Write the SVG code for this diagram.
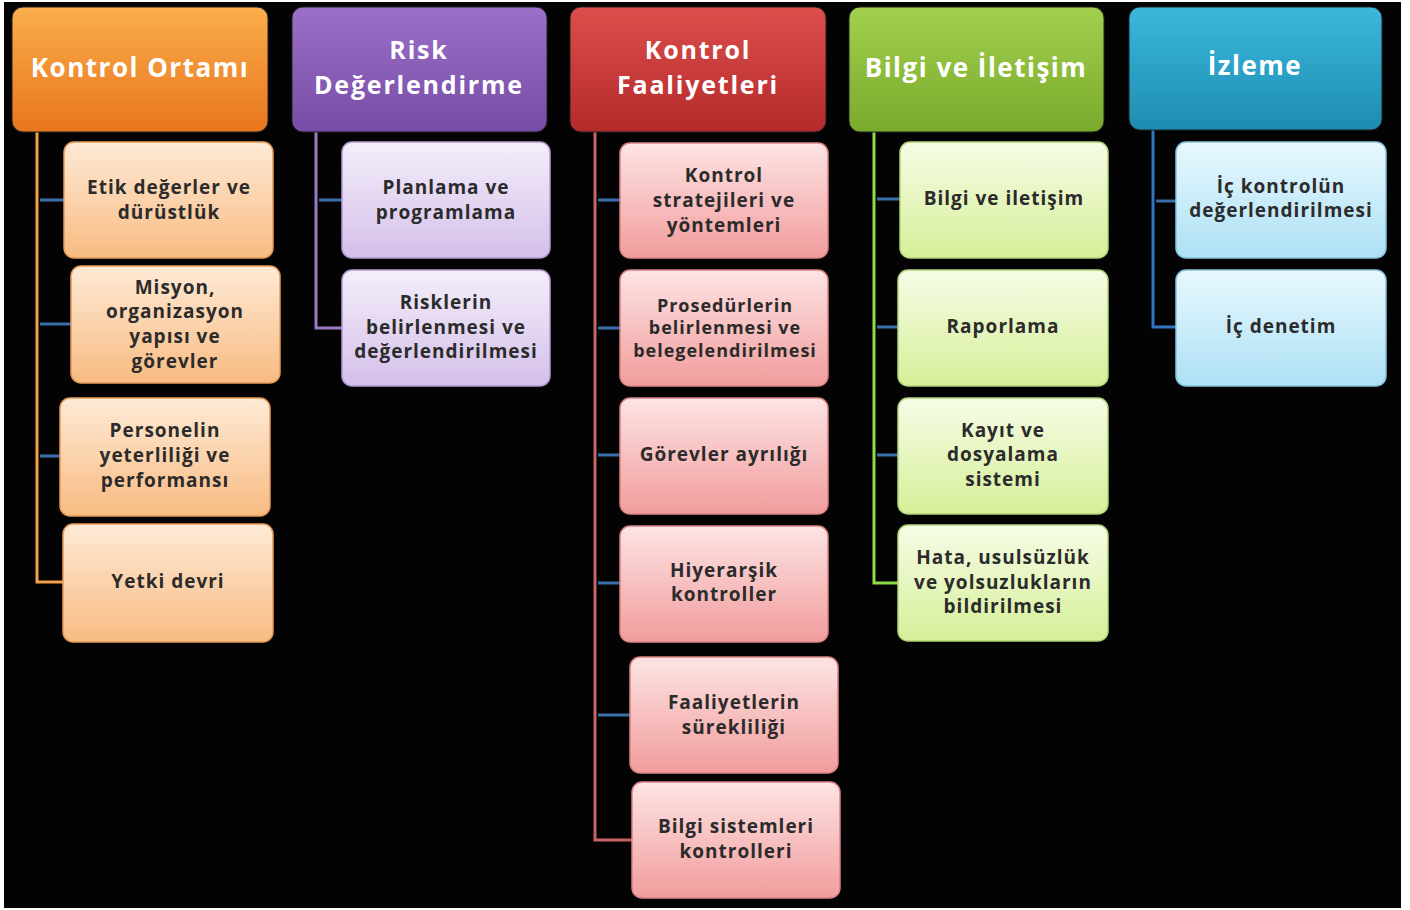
<svg xmlns="http://www.w3.org/2000/svg" width="1410" height="910" viewBox="0 0 1410 910">
<defs>
<linearGradient id="hO" x1="0" y1="0" x2="0" y2="1"><stop offset="0" stop-color="#fbad4c"/><stop offset="1" stop-color="#e8761c"/></linearGradient>
<linearGradient id="hP" x1="0" y1="0" x2="0" y2="1"><stop offset="0" stop-color="#9c70c8"/><stop offset="1" stop-color="#774ca6"/></linearGradient>
<linearGradient id="hR" x1="0" y1="0" x2="0" y2="1"><stop offset="0" stop-color="#dc4e4c"/><stop offset="1" stop-color="#b42a2a"/></linearGradient>
<linearGradient id="hG" x1="0" y1="0" x2="0" y2="1"><stop offset="0" stop-color="#a2d04e"/><stop offset="1" stop-color="#7aaa2c"/></linearGradient>
<linearGradient id="hB" x1="0" y1="0" x2="0" y2="1"><stop offset="0" stop-color="#3cb8dc"/><stop offset="1" stop-color="#1d8cb2"/></linearGradient>
<linearGradient id="cO" x1="0" y1="0" x2="0" y2="1"><stop offset="0" stop-color="#feead6"/><stop offset="1" stop-color="#f8bb82"/></linearGradient>
<linearGradient id="cP" x1="0" y1="0" x2="0" y2="1"><stop offset="0" stop-color="#f4eefa"/><stop offset="1" stop-color="#d4c0ea"/></linearGradient>
<linearGradient id="cR" x1="0" y1="0" x2="0" y2="1"><stop offset="0" stop-color="#fde4e4"/><stop offset="1" stop-color="#f29c9c"/></linearGradient>
<linearGradient id="cG" x1="0" y1="0" x2="0" y2="1"><stop offset="0" stop-color="#f6fce6"/><stop offset="1" stop-color="#d6ef98"/></linearGradient>
<linearGradient id="cB" x1="0" y1="0" x2="0" y2="1"><stop offset="0" stop-color="#e8f8fe"/><stop offset="1" stop-color="#ace0f4"/></linearGradient>
</defs>
<style>
.hd{stroke:#222;stroke-width:1}
.ch{stroke-width:1.5}
.ht{font-family:"Open Sans","Liberation Sans",sans-serif;font-weight:700;font-size:26px;fill:#fff;text-anchor:middle;letter-spacing:1.5px}
.h2{font-size:25px;letter-spacing:1.8px}
.ct{font-family:"Open Sans","Liberation Sans",sans-serif;font-weight:700;font-size:19px;fill:#2b2b2b;text-anchor:middle;letter-spacing:1px}
.stub{stroke:#3a6ea8;stroke-width:3;fill:none}
.ln{stroke-width:3;fill:none}
</style>
<rect x="0" y="0" width="1410" height="910" fill="#fff"/>
<rect x="4" y="2" width="1397" height="906" fill="#030303"/>

<g id="connectors">
<path class="ln" stroke="#f2a04a" d="M37 132 V582 H63"/>
<path class="ln" stroke="#9a7cc4" d="M316 132 V328 H342"/>
<path class="ln" stroke="#c86464" d="M595 132 V840 H632"/>
<path class="ln" stroke="#8edc4a" d="M874 132 V583 H898"/>
<path class="ln" stroke="#2f78c0" d="M1153 130 V327 H1176"/>
<path class="stub" d="M40 200 H64 M40 324 H71 M40 456 H60"/>
<path class="stub" d="M319 200 H342"/>
<path class="stub" d="M598 200 H620 M598 328 H620 M598 455 H620 M598 583 H620 M598 715 H630"/>
<path class="stub" d="M877 199 H900 M877 327 H898 M877 455 H898"/>
<path class="stub" d="M1156 201 H1176"/>
</g>

<g id="h-kontrol-ortami"><rect class="hd" x="12" y="7" width="256" height="125" rx="11" fill="url(#hO)"/><text class="ht" x="140" y="77">Kontrol Ortamı</text></g>
<g id="h-risk"><rect class="hd" x="292" y="7" width="255" height="125" rx="11" fill="url(#hP)"/><text class="ht h2" x="419" y="59">Risk</text><text class="ht h2" x="419" y="94">Değerlendirme</text></g>
<g id="h-faaliyet"><rect class="hd" x="570" y="7" width="256" height="125" rx="11" fill="url(#hR)"/><text class="ht h2" x="698" y="59">Kontrol</text><text class="ht h2" x="698" y="94">Faaliyetleri</text></g>
<g id="h-bilgi"><rect class="hd" x="849" y="7" width="255" height="125" rx="11" fill="url(#hG)"/><text class="ht" x="976" y="77">Bilgi ve İletişim</text></g>
<g id="h-izleme"><rect class="hd" x="1129" y="7" width="253" height="123" rx="11" fill="url(#hB)"/><text class="ht" x="1255" y="75">İzleme</text></g>

<g id="o1"><rect class="ch" x="64" y="142" width="209" height="116" rx="10" fill="url(#cO)" stroke="#e89a58"/><text class="ct" x="169" y="194">Etik değerler ve</text><text class="ct" x="169" y="219">dürüstlük</text></g>
<g id="o2"><rect class="ch" x="71" y="266" width="209" height="117" rx="10" fill="url(#cO)" stroke="#e89a58"/><text class="ct" x="175" y="294">Misyon,</text><text class="ct" x="175" y="318">organizasyon</text><text class="ct" x="175" y="343">yapısı ve</text><text class="ct" x="175" y="368">görevler</text></g>
<g id="o3"><rect class="ch" x="60" y="398" width="210" height="118" rx="10" fill="url(#cO)" stroke="#e89a58"/><text class="ct" x="165" y="437">Personelin</text><text class="ct" x="165" y="462">yeterliliği ve</text><text class="ct" x="165" y="487">performansı</text></g>
<g id="o4"><rect class="ch" x="63" y="524" width="210" height="118" rx="10" fill="url(#cO)" stroke="#e89a58"/><text class="ct" x="168" y="588">Yetki devri</text></g>

<g id="p1"><rect class="ch" x="342" y="142" width="208" height="116" rx="10" fill="url(#cP)" stroke="#b49ad4"/><text class="ct" x="446" y="194">Planlama ve</text><text class="ct" x="446" y="219">programlama</text></g>
<g id="p2"><rect class="ch" x="342" y="270" width="208" height="116" rx="10" fill="url(#cP)" stroke="#b49ad4"/><text class="ct" x="446" y="309">Risklerin</text><text class="ct" x="446" y="334">belirlenmesi ve</text><text class="ct" x="446" y="358">değerlendirilmesi</text></g>

<g id="r1"><rect class="ch" x="620" y="143" width="208" height="115" rx="10" fill="url(#cR)" stroke="#dc8484"/><text class="ct" x="724" y="182">Kontrol</text><text class="ct" x="724" y="207">stratejileri ve</text><text class="ct" x="724" y="232">yöntemleri</text></g>
<g id="r2"><rect class="ch" x="620" y="270" width="208" height="116" rx="10" fill="url(#cR)" stroke="#dc8484"/><text class="ct" x="725" y="312" style="font-size:18px">Prosedürlerin</text><text class="ct" x="725" y="334" style="font-size:18px">belirlenmesi ve</text><text class="ct" x="725" y="357" style="font-size:18px">belegelendirilmesi</text></g>
<g id="r3"><rect class="ch" x="620" y="398" width="208" height="116" rx="10" fill="url(#cR)" stroke="#dc8484"/><text class="ct" x="724" y="461">Görevler ayrılığı</text></g>
<g id="r4"><rect class="ch" x="620" y="526" width="208" height="116" rx="10" fill="url(#cR)" stroke="#dc8484"/><text class="ct" x="724" y="577">Hiyerarşik</text><text class="ct" x="724" y="601">kontroller</text></g>
<g id="r5"><rect class="ch" x="630" y="657" width="208" height="116" rx="10" fill="url(#cR)" stroke="#dc8484"/><text class="ct" x="734" y="709">Faaliyetlerin</text><text class="ct" x="734" y="734">sürekliliği</text></g>
<g id="r6"><rect class="ch" x="632" y="782" width="208" height="116" rx="10" fill="url(#cR)" stroke="#dc8484"/><text class="ct" x="736" y="833">Bilgi sistemleri</text><text class="ct" x="736" y="858">kontrolleri</text></g>

<g id="g1"><rect class="ch" x="900" y="142" width="208" height="116" rx="10" fill="url(#cG)" stroke="#b4d47a"/><text class="ct" x="1004" y="205">Bilgi ve iletişim</text></g>
<g id="g2"><rect class="ch" x="898" y="270" width="210" height="116" rx="10" fill="url(#cG)" stroke="#b4d47a"/><text class="ct" x="1003" y="333">Raporlama</text></g>
<g id="g3"><rect class="ch" x="898" y="398" width="210" height="116" rx="10" fill="url(#cG)" stroke="#b4d47a"/><text class="ct" x="1003" y="437">Kayıt ve</text><text class="ct" x="1003" y="461">dosyalama</text><text class="ct" x="1003" y="486">sistemi</text></g>
<g id="g4"><rect class="ch" x="898" y="525" width="210" height="116" rx="10" fill="url(#cG)" stroke="#b4d47a"/><text class="ct" x="1003" y="564">Hata, usulsüzlük</text><text class="ct" x="1003" y="589">ve yolsuzlukların</text><text class="ct" x="1003" y="613">bildirilmesi</text></g>

<g id="b1"><rect class="ch" x="1176" y="142" width="210" height="116" rx="10" fill="url(#cB)" stroke="#86c4de"/><text class="ct" x="1281" y="193">İç kontrolün</text><text class="ct" x="1281" y="217">değerlendirilmesi</text></g>
<g id="b2"><rect class="ch" x="1176" y="270" width="210" height="116" rx="10" fill="url(#cB)" stroke="#86c4de"/><text class="ct" x="1281" y="333">İç denetim</text></g>
</svg>
